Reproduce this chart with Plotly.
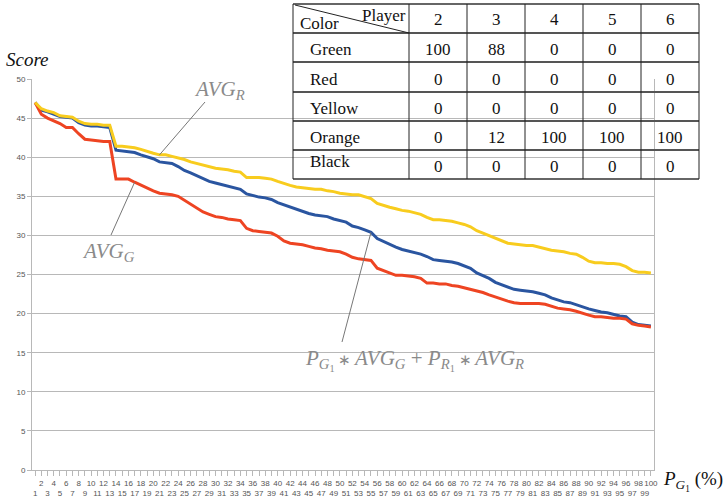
import plotly.graph_objects as go

# Percentage of green-first plays, 1..100
p_g1 = [str(i) for i in range(1, 101)]

# Average score when red is played (yellow curve)
avg_r = [47.0, 46.2, 45.9, 45.7, 45.3, 45.2, 45.1, 44.6, 44.3, 44.2,
         44.2, 44.1, 44.1, 41.4, 41.4, 41.3, 41.2, 41.0, 40.7, 40.5,
         40.3, 40.3, 40.1, 39.9, 39.7, 39.4, 39.2, 39.0, 38.8, 38.6,
         38.5, 38.4, 38.2, 38.1, 37.4, 37.4, 37.4, 37.3, 37.2, 36.9,
         36.6, 36.4, 36.2, 36.1, 36.0, 35.9, 35.9, 35.7, 35.6, 35.4,
         35.3, 35.2, 35.2, 34.9, 34.7, 34.1, 33.8, 33.6, 33.4, 33.2,
         33.1, 32.9, 32.7, 32.3, 32.0, 32.0, 31.9, 31.8, 31.6, 31.4,
         31.1, 30.6, 30.3, 30.0, 29.6, 29.3, 29.0, 28.9, 28.8, 28.7,
         28.7, 28.5, 28.3, 28.1, 28.0, 27.9, 27.7, 27.6, 27.2, 26.7,
         26.5, 26.5, 26.4, 26.4, 26.3, 26.0, 25.5, 25.3, 25.3, 25.2]

# Weighted combination P_G1*AVG_G + P_R1*AVG_R (blue curve)
combo = [47.0, 46.0, 45.8, 45.5, 45.2, 45.1, 45.0, 44.4, 44.1, 44.0,
         44.0, 43.9, 43.8, 40.9, 40.8, 40.7, 40.6, 40.3, 40.1, 39.8,
         39.4, 39.3, 39.2, 38.8, 38.3, 38.0, 37.6, 37.2, 36.9, 36.7,
         36.5, 36.3, 36.1, 35.9, 35.3, 35.1, 34.9, 34.8, 34.6, 34.2,
         33.9, 33.7, 33.3, 33.1, 32.8, 32.6, 32.5, 32.4, 32.1, 31.9,
         31.7, 31.2, 31.0, 30.7, 30.4, 29.6, 29.2, 28.9, 28.5, 28.2,
         28.0, 27.8, 27.6, 27.3, 26.9, 26.8, 26.7, 26.6, 26.4, 26.1,
         25.8, 25.2, 24.9, 24.5, 24.0, 23.7, 23.3, 23.1, 23.0, 22.9,
         22.8, 22.6, 22.4, 22.0, 21.7, 21.5, 21.4, 21.1, 20.8, 20.6,
         20.4, 20.2, 20.1, 19.9, 19.7, 19.6, 18.9, 18.6, 18.5, 18.4]

# Average score when green is played (red curve)
avg_g = [47.0, 45.5, 45.0, 44.7, 44.3, 43.8, 43.8, 43.0, 42.3, 42.2,
         42.1, 42.0, 42.0, 37.2, 37.2, 37.2, 36.8, 36.4, 36.0, 35.7,
         35.4, 35.3, 35.2, 35.0, 34.5, 33.9, 33.5, 33.0, 32.7, 32.4,
         32.3, 32.1, 32.0, 31.9, 30.9, 30.6, 30.5, 30.4, 30.3, 29.9,
         29.3, 29.0, 28.9, 28.8, 28.6, 28.4, 28.3, 28.1, 28.0, 27.9,
         27.6, 27.2, 27.0, 26.9, 26.8, 25.8, 25.5, 25.2, 24.9, 24.9,
         24.8, 24.7, 24.5, 23.9, 23.9, 23.8, 23.8, 23.6, 23.5, 23.3,
         23.1, 22.9, 22.7, 22.4, 22.1, 21.8, 21.6, 21.4, 21.3, 21.3,
         21.3, 21.3, 21.2, 20.9, 20.7, 20.6, 20.5, 20.3, 20.0, 19.8,
         19.6, 19.6, 19.5, 19.4, 19.4, 19.3, 18.7, 18.5, 18.4, 18.3]

# Colour distribution per player count (%)
players = ["2", "3", "4", "5", "6"]
colour_names = ["Green", "Red", "Yellow", "Orange", "Black"]
share_green = [100, 88, 0, 0, 0]
share_red = [0, 0, 0, 0, 0]
share_yellow = [0, 0, 0, 0, 0]
share_orange = [0, 12, 100, 100, 100]
share_black = [0, 0, 0, 0, 0]
shares = [share_green, share_red, share_yellow, share_orange, share_black]

W, H = 728, 501
ML, MR, MT, MB = 32, 74, 79, 31
PW, PH = W - ML - MR, H - MT - MB


def px(x):
    return (x - ML) / PW


def py(y):
    return (H - MB - y) / PH


SERIF = "Liberation Serif"
SANS = "Liberation Sans"
GRID = "#b8b8b8"

even_ticks = p_g1[1::2]
odd_ticks = p_g1[0::2]

fig = go.Figure()
fig.add_trace(go.Scatter(x=p_g1, y=combo, mode="lines",
                         line=dict(color="#2a55a0", width=3)))
fig.add_trace(go.Scatter(x=p_g1, y=avg_g, mode="lines",
                         line=dict(color="#ee4422", width=3)))
fig.add_trace(go.Scatter(x=p_g1, y=avg_r, mode="lines",
                         line=dict(color="#f8cc1e", width=3)))
# invisible companion trace so the second (odd-label) axis gets drawn
fig.add_trace(go.Scatter(x=p_g1, y=combo, xaxis="x2", mode="lines",
                         line=dict(width=0), opacity=0, hoverinfo="skip"))

tick_font = dict(family=SANS, size=8, color="#555")

fig.update_layout(
    width=W, height=H,
    margin=dict(l=ML, r=MR, t=MT, b=MB, autoexpand=False),
    paper_bgcolor="white", plot_bgcolor="white",
    showlegend=False,
    xaxis=dict(type="category", range=[-0.5, 99.5], tickmode="array",
               tickvals=even_ticks, ticktext=even_ticks, tickangle=0,
               ticks="outside", ticklen=5, tickcolor=GRID,
               showline=True, linecolor=GRID, showgrid=False,
               tickfont=tick_font),
    xaxis2=dict(type="category", overlaying="x", matches="x", anchor="y",
                side="bottom", range=[-0.5, 99.5], tickmode="array",
                tickvals=odd_ticks, ticktext=odd_ticks, tickangle=0,
                ticks="outside", ticklen=5, tickcolor=GRID,
                ticklabelstandoff=10, showline=False, showgrid=False,
                tickfont=tick_font),
    yaxis=dict(range=[0, 50], dtick=5, tick0=0, ticks="outside",
               ticklen=4, tickcolor=GRID, showline=True, mirror=True,
               linecolor=GRID, gridcolor=GRID, zeroline=False,
               tickfont=tick_font),
)

ann = []
shapes = []

# axis titles
ann.append(dict(xref="paper", yref="paper", x=px(4), y=py(60),
                xanchor="left", yanchor="middle", showarrow=False,
                text="<i>Score</i>", font=dict(family=SERIF, size=19, color="#111")))
ann.append(dict(xref="paper", yref="paper", x=px(661), y=py(481),
                xanchor="left", yanchor="middle", showarrow=False,
                text="<i>P</i><sub><i>G</i><sub>1</sub></sub> (%)",
                font=dict(family=SERIF, size=19, color="#111")))

# curve labels
lab_font = dict(family=SERIF, size=21, color="#8a8a8a")
star = '<span style="font-size:15px"> ∗ </span>'
ann.append(dict(xref="paper", yref="paper", x=px(219), y=py(90),
                xanchor="center", yanchor="middle", showarrow=False,
                text="<i>AVG</i><sub><i>R</i></sub>", font=lab_font))
ann.append(dict(xref="paper", yref="paper", x=px(108), y=py(252),
                xanchor="center", yanchor="middle", showarrow=False,
                text="<i>AVG</i><sub><i>G</i></sub>", font=lab_font))
ann.append(dict(xref="paper", yref="paper", x=px(415), y=py(360),
                xanchor="center", yanchor="middle", showarrow=False,
                text="<i>P</i><sub><i>G</i><sub>1</sub></sub>" + star
                     + "<i>AVG</i><sub><i>G</i></sub> + <i>P</i><sub><i>R</i><sub>1</sub></sub>"
                     + star + "<i>AVG</i><sub><i>R</i></sub>",
                font=lab_font))


def data_x(xpix):
    return (xpix - ML) / PW * 100 - 0.5


def data_y(ypix):
    return (H - MB - ypix) / PH * 50


# leader lines: tip on the curve, tail near the label
leaders = [(20, avg_r, 205, 102), (16, avg_g, 111, 235), (54, combo, 342, 342)]
for idx, series, tx, ty in leaders:
    shapes.append(dict(type="line", xref="x", yref="y",
                       x0=idx, y0=series[idx], x1=data_x(tx), y1=data_y(ty),
                       line=dict(color="#777", width=1)))

# colour-distribution table
col_x = [293, 409, 467, 525, 583, 641, 699]
row_y = [4, 33, 62, 92, 121, 150, 179]
for i, y in enumerate(row_y):
    shapes.append(dict(type="line", xref="paper", yref="paper",
                       x0=px(col_x[0]), x1=px(col_x[-1]), y0=py(y), y1=py(y),
                       line=dict(color="#333" if i in (0, 6) else "#555",
                                 width=1.6 if i in (0, 6) else 2)))
for x in col_x:
    shapes.append(dict(type="line", xref="paper", yref="paper",
                       x0=px(x), x1=px(x), y0=py(row_y[0]), y1=py(row_y[-1]),
                       line=dict(color="#222", width=1)))
shapes.append(dict(type="line", xref="paper", yref="paper",
                   x0=px(295), x1=px(409), y0=py(5), y1=py(33),
                   line=dict(color="#222", width=1)))

tab_font = dict(family=SERIF, size=17, color="#111")
ann.append(dict(xref="paper", yref="paper", x=px(298), y=py(24),
                xanchor="left", yanchor="middle", showarrow=False,
                text="Color", font=tab_font))
ann.append(dict(xref="paper", yref="paper", x=px(408), y=py(15),
                xanchor="right", yanchor="middle", showarrow=False,
                text="Player", font=tab_font))
for j, p in enumerate(players):
    ann.append(dict(xref="paper", yref="paper",
                    x=px((col_x[j + 1] + col_x[j + 2]) / 2), y=py(20),
                    xanchor="center", yanchor="middle", showarrow=False,
                    text=p, font=tab_font))
for i, name in enumerate(colour_names):
    yc = (row_y[i + 1] + row_y[i + 2]) / 2 + 2
    ann.append(dict(xref="paper", yref="paper", x=px(308),
                    y=py(yc - 5 if name == "Black" else yc),
                    xanchor="left", yanchor="middle", showarrow=False,
                    text=name, font=tab_font))
    for j, v in enumerate(shares[i]):
        ann.append(dict(xref="paper", yref="paper",
                        x=px((col_x[j + 1] + col_x[j + 2]) / 2), y=py(yc),
                        xanchor="center", yanchor="middle", showarrow=False,
                        text=str(v), font=tab_font))

fig.update_layout(annotations=ann, shapes=shapes)
fig.write_html("out.html")
